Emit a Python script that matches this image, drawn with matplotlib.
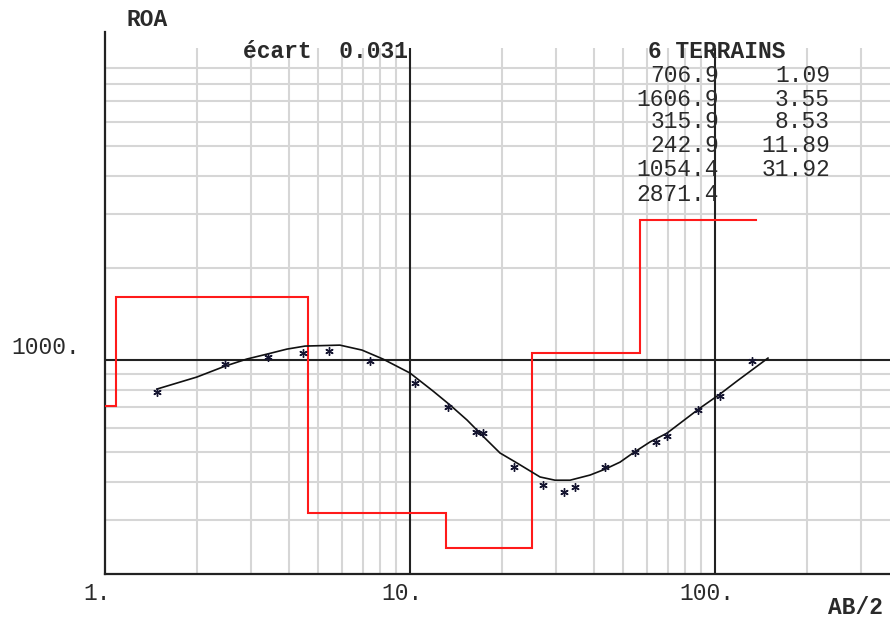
import numpy as np
import matplotlib
matplotlib.use("Agg")
import matplotlib.pyplot as plt
from matplotlib.transforms import ScaledTranslation, blended_transform_factory

# ---------------- data ----------------
# layered model (resistivity, thickness)
layer_res = [706.9, 1606.9, 315.9, 242.9, 1054.4, 2871.4]
layer_thk = [1.09, 3.55, 8.53, 11.89, 31.92]
model_x_start = 1.0
model_x_end = 136.0

# observed apparent resistivity (stars)
obs_ab2 = [1.48, 2.48, 3.43, 4.45, 5.41, 7.42, 10.36, 13.36, 16.46, 17.31,
           21.93, 27.2, 31.98, 34.75, 43.75, 54.5, 64.1, 69.4, 88.2, 103.8, 131.9]
obs_rho = [788, 974, 1025, 1054, 1069, 990, 844, 702, 583, 576,
           446, 390, 371, 384, 446, 501, 541, 564, 687, 764, 992]

# computed curve
calc_ab2 = [1.48, 2.0, 2.48, 2.92, 3.40, 3.95, 4.53, 5.89, 6.96, 8.15, 10.0,
            11.9, 13.53, 15.38, 17.35, 19.73, 22.43, 26.69, 29.89, 33.47,
            38.93, 43.59, 48.83, 53.84, 61.22, 69.6, 89.31, 103.8, 118.1, 149.2]
calc_rho = [804, 880, 956, 1008, 1046, 1086, 1111, 1119, 1078, 1008, 907,
            792, 713, 637, 564, 497, 461, 415, 405, 405,
            421, 440, 464, 497, 540, 577, 697, 774, 854, 1015]

x_tick_vals = [1, 10, 100]
x_tick_labels = ["1.", "10.", "100."]
y_label_val = 1000
y_label_text = "1000."
x_minor = [2, 3, 4, 5, 6, 7, 8, 9, 20, 30, 40, 50, 60, 70, 80, 90, 200, 300]
y_minor = [300, 400, 500, 600, 700, 800, 900,
           2000, 3000, 4000, 5000, 6000, 7000, 8000, 9000]

ecart_text = "écart  0.031"
title_text = "6 TERRAINS"

# ---------------- figure ----------------
W, H = 890, 621
fig = plt.figure(figsize=(W / 100, H / 100), dpi=100)
ax = fig.add_axes([105 / W, (H - 574) / H, (W - 105) / W, (574 - 32) / H])
ax.set_xscale("log")
ax.set_yscale("log")
ax.set_xlim(1, 374.8)
ax.set_ylim(200, 11800)
ax.set_xticks([])
ax.set_yticks([])
ax.minorticks_off()
for s in ["top", "right"]:
    ax.spines[s].set_visible(False)
for s in ["left", "bottom"]:
    ax.spines[s].set_linewidth(1.6)
    ax.spines[s].set_color("#222222")

font = "Liberation Mono"
fs = 16.5
tcol = "#2a2a2a"

grid_top = 10460
gcol = "#d6d6d6"
# light grid
ax.vlines(x_minor, 200, grid_top, colors=gcol, lw=1.5, zorder=1)
ax.hlines(y_minor, 1, 374.8, colors=gcol, lw=1.5, zorder=1)
# major lines
ax.vlines([10, 100], 200, grid_top, colors="#222222", lw=1.5, zorder=2)
ax.hlines([1000], 1, 374.8, colors="#222222", lw=1.5, zorder=2)

# model step line
depths = np.cumsum(layer_thk)
edges = np.concatenate([[model_x_start], depths, [model_x_end]])
sx, sy = [], []
for i, r in enumerate(layer_res):
    sx += [edges[i], edges[i + 1]]
    sy += [r, r]
ax.plot(sx, sy, color="#ff1a1a", lw=1.5, zorder=3, solid_joinstyle="miter")

# calculated curve
ax.plot(calc_ab2, calc_rho, color="#111111", lw=1.2, zorder=4)
# observations
ax.plot(obs_ab2, obs_rho, linestyle="none", marker=(6, 2, 0), markersize=6,
        mew=1.0, color="#151530", zorder=5)

# x tick labels
tx = blended_transform_factory(ax.transData, ax.transAxes)
for v, lab in zip(x_tick_vals, x_tick_labels):
    ax.text(v, 0, lab, transform=tx + ScaledTranslation(-8 / 100, -19 / 100, fig.dpi_scale_trans),
            ha="center", va="center", family=font, fontsize=fs, color=tcol, clip_on=False)

# y label 1000.
ty = blended_transform_factory(ax.transAxes, ax.transData)
ax.text(0, y_label_val, y_label_text,
        transform=ty + ScaledTranslation(-94 / 100, 13 / 100, fig.dpi_scale_trans),
        ha="left", va="center", family=font, fontsize=fs, color=tcol, clip_on=False)


def ftext(x, y, s, ha="left", weight="normal"):
    fig.text(x / W, 1 - y / H, s, ha=ha, va="center", family=font, fontsize=fs,
             color=tcol, weight=weight, zorder=10)


ftext(127, 19, "ROA", weight="bold")
ftext(828, 607, "AB/2", weight="bold")
ftext(243, 52, ecart_text, weight="bold")
ftext(648, 52, title_text, weight="bold")

row_y = [75, 99, 122, 145, 170, 194]
for i, r in enumerate(layer_res):
    ftext(719, row_y[i], f"{r:.1f}", ha="right")
for i, t in enumerate(layer_thk):
    ftext(830, row_y[i], f"{t:.2f}", ha="right")

fig.savefig("out.png", dpi=100)
